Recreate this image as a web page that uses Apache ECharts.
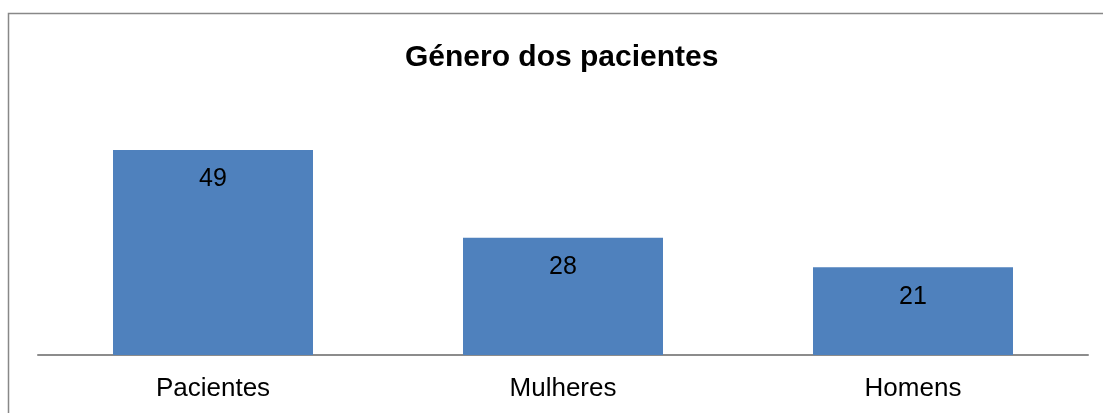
<!DOCTYPE html>
<html>
<head>
<meta charset="utf-8">
<script src="https://cdn.jsdelivr.net/npm/echarts@6/dist/echarts.min.js"></script>
<style>
  html, body { margin: 0; padding: 0; background: #fff; }
  #chart { width: 1103px; height: 413px; }
</style>
</head>
<body>
<div id="chart"></div>
<script>
  const categories = ['Pacientes', 'Mulheres', 'Homens']
  const values = [49, 28, 21]

  const chart = echarts.init(document.getElementById('chart'))
  chart.setOption({
    animation: false,
    textStyle: { fontFamily: 'Liberation Sans, Arial, sans-serif' },
    title: {
      text: 'Género dos pacientes',
      left: 405,
      top: 43,
      padding: 0,
      textStyle: { fontSize: 30, fontWeight: 'bold', color: '#000' }
    },
    // moldura da área do gráfico
    graphic: [{
      type: 'rect',
      shape: { x: 8.5, y: 13.5, width: 1200, height: 500 },
      style: { fill: 'none', stroke: '#888', lineWidth: 1.5 },
      silent: true
    }],
    grid: { left: 38, right: 15, top: 104, bottom: 58 },
    xAxis: {
      type: 'category',
      data: categories,
      axisLine: { lineStyle: { color: '#8c8c8c', width: 2 } },
      axisTick: { show: false },
      axisLabel: { fontSize: 26, color: '#000', margin: 21 }
    },
    yAxis: {
      type: 'value',
      min: 0,
      max: 60,
      show: false,
      splitLine: { show: false }
    },
    series: [{
      type: 'bar',
      data: values,
      barWidth: 200,
      itemStyle: { color: '#4F81BD' },
      label: {
        show: true,
        position: 'insideTop',
        distance: 17,
        fontSize: 25,
        color: '#000'
      }
    }]
  })
</script>
</body>
</html>
